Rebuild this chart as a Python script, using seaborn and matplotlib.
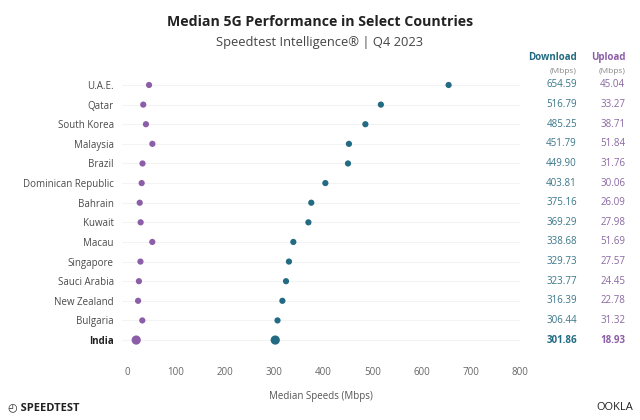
import numpy as np
import pandas as pd
import matplotlib.pyplot as plt
import seaborn as sns

# ------------------
# Data
# ------------------
countries = ['U.A.E.', 'Qatar', 'South Korea', 'Malaysia', 'Brazil',
             'Dominican Republic', 'Bahrain', 'Kuwait', 'Macau', 'Singapore',
             'Sauci Arabia', 'New Zealand', 'Bulgaria', 'India']
download = [654.59, 516.79, 485.25, 451.79, 449.90, 403.81, 375.16, 369.29,
            338.68, 329.73, 323.77, 316.39, 306.44, 301.86]
upload = [45.04, 33.27, 38.71, 51.84, 31.76, 30.06, 26.09, 27.98, 51.69,
          27.57, 24.45, 22.78, 31.32, 18.93]
xticks = [0, 100, 200, 300, 400, 500, 600, 700, 800]
highlight = 'India'

c_down = '#236b82'
c_up = '#8c5ea8'
c_down_txt = '#3a7688'
c_up_txt = '#8a68a3'

sns.set_style('white')
plt.rcParams['font.family'] = ['Open Sans', 'DejaVu Sans']

df = pd.DataFrame({'country': countries, 'download': download,
                   'upload': upload})
df['row'] = np.arange(len(df))
df['big'] = np.where(df['country'] == highlight, 'big', 'small')

fig = plt.figure(figsize=(6.4, 4.2), dpi=100)
ax = fig.add_axes([0.1906, 0.167, 0.622, 0.654])

# faint row lines
for r in df['row']:
    ax.axhline(r, color='#f3f3f3', lw=0.8, zorder=0)

sns.scatterplot(data=df, x='upload', y='row', size='big',
                sizes={'big': 44, 'small': 20}, color=c_up,
                edgecolor='none', legend=False, ax=ax, zorder=3)
sns.scatterplot(data=df, x='download', y='row', size='big',
                sizes={'big': 44, 'small': 20}, color=c_down,
                edgecolor='none', legend=False, ax=ax, zorder=3)

ax.set_xlim(-10, 800)
ax.set_ylim(len(df) - 0.5, -0.5)
ax.set_xticks(xticks)
ax.set_xticklabels([str(t) for t in xticks], fontsize=7, color='#666666')
ax.tick_params(axis='x', length=7, width=0.6, color='#d0d0d0', pad=5)
ax.set_yticks(df['row'])
ax.set_yticklabels(df['country'], fontsize=7, color='#4a4a4a')
ax.tick_params(axis='y', length=0, pad=6)
for lab in ax.get_yticklabels():
    if lab.get_text() == highlight:
        lab.set_fontweight('bold')
        lab.set_color('#222222')
ax.set_xlabel('Median Speeds (Mbps)', fontsize=7, color='#555555',
              labelpad=10)
ax.set_ylabel('')
sns.despine(ax=ax, left=True, bottom=True)

# value columns
trans = ax.get_yaxis_transform()
x_down, x_up = 1.143, 1.264
for _, r in df.iterrows():
    hl = r['country'] == highlight
    ax.text(x_down, r['row'], f"{r['download']:.2f}", transform=trans,
            ha='right', va='center', fontsize=7,
            color=c_down if hl else c_down_txt,
            fontweight='bold' if hl else 'normal')
    ax.text(x_up, r['row'], f"{r['upload']:.2f}", transform=trans,
            ha='right', va='center', fontsize=7,
            color=c_up if hl else c_up_txt,
            fontweight='bold' if hl else 'normal')
ax.text(x_down, -1.38, 'Download', transform=trans, ha='right', va='center',
        fontsize=7, color=c_down, fontweight='bold')
ax.text(x_down, -0.71, '(Mbps)', transform=trans, ha='right', va='center',
        fontsize=6, color='#888888')
ax.text(x_up, -1.38, 'Upload', transform=trans, ha='right', va='center',
        fontsize=7, color=c_up, fontweight='bold')
ax.text(x_up, -0.71, '(Mbps)', transform=trans, ha='right', va='center',
        fontsize=6, color='#888888')

# titles
fig.text(0.5, 0.948, 'Median 5G Performance in Select Countries',
         ha='center', va='center', fontsize=10.2, fontweight='bold',
         color='#222222')
fig.text(0.5, 0.898, 'Speedtest Intelligence\u00ae | Q4 2023',
         ha='center', va='center', fontsize=9.3, color='#444444')

# footer logos
fig.text(0.012, 0.03, '\u25f4 SPEEDTEST', ha='left', va='center',
         fontsize=8, fontweight='bold', color='#222222')
fig.text(0.99, 0.03, 'OOKLA', ha='right', va='center', fontsize=8,
         color='#222222')

plt.savefig('out.png', dpi=100)
plt.close('all')
